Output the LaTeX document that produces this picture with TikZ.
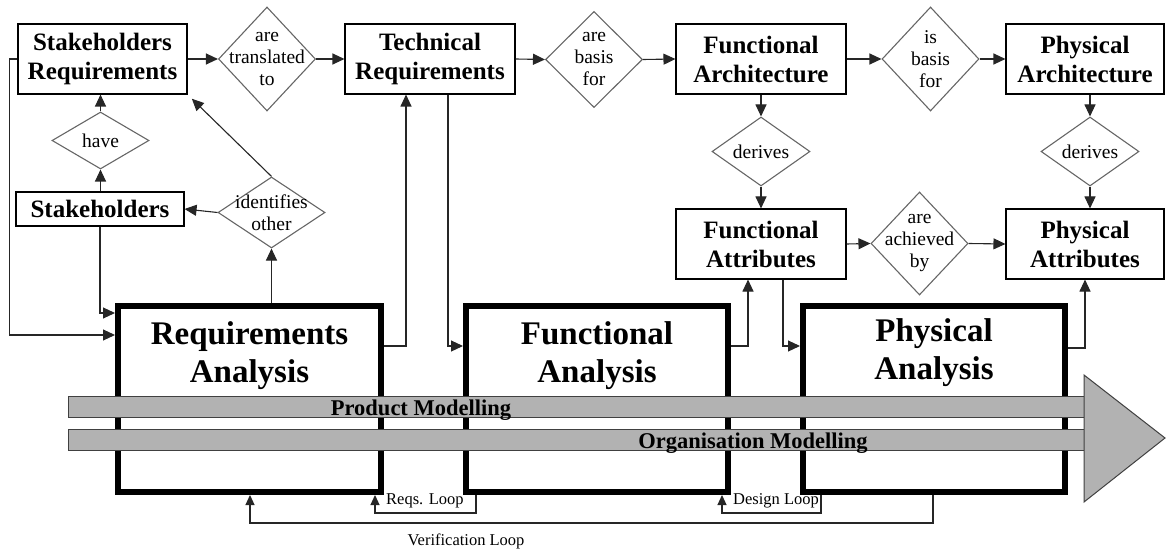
\documentclass[tikz,border=0pt]{standalone}
\usepackage{fontspec}
\setmainfont{Liberation Serif}
\usetikzlibrary{shapes.geometric,arrows.meta,positioning}

\tikzset{
	conn/.style={draw=black!85, line width=1.1pt, -{Triangle[length=12pt,width=11pt]}},
	loop/.style={conn, -{Triangle[length=10pt,width=9pt]}},
	entity/.style={draw, line width=1.1pt, inner sep=0pt, align=center, font=\fontsize{25}{29}\selectfont\bfseries, minimum width=170pt, minimum height=70pt},
	relation/.style={diamond, draw=black!60, line width=1.1pt, inner sep=0pt, minimum width=97pt, minimum height=104pt},
	reltext/.style={align=center, font=\fontsize{19.5}{22}\selectfont},
	process/.style={draw, line width=6pt, minimum width=263pt, minimum height=186pt, inner sep=0pt},
	proctext/.style={align=center, inner sep=0pt, font=\fontsize{33}{38}\selectfont\bfseries},
	band/.style={fill=black!30, draw=black!75, line width=1pt},
	bandtext/.style={inner sep=0pt, font=\fontsize{22.5}{26}\selectfont\bfseries},
	looptext/.style={inner sep=0pt, font=\fontsize{16.5}{19}\selectfont}
}

\begin{document}
\begin{tikzpicture}[x=1pt, y=-1pt]
				\useasboundingbox (0,0) rectangle (1166,553);
				
				\node[entity, minimum width=169pt] (SReq) at (102.5,59) {Stakeholders\\Requirements};
				\node[entity] (TReq) at (430,59) {Technical\\Requirements};
				\node[entity] (FArch) at (761,59) {Functional\\Architecture};
				\node[entity, minimum width=158pt] (PArch) at (1085,59) {Physical\\Architecture};
				\node[entity, minimum width=168pt, minimum height=34pt] (Stake) at (100,209) {Stakeholders};
				\node[entity] (FAttr) at (761,244) {Functional\\Attributes};
				\node[entity, minimum width=158pt] (PAttr) at (1085,244) {Physical\\Attributes};
				
				\node[relation, label={[reltext]center:are\\translated\\to}] (DTrans) at (267,59) {};
				\node[relation, minimum height=96pt, label={[reltext]center:are\\basis\\for}] (DBasisA) at (594,59.5) {};
				\node[relation, label={[reltext]center:is\\basis\\for}] (DBasisB) at (930.5,59) {};
				\node[relation, minimum height=57pt, label={[reltext]center:have}] (DHave) at (100.5,140.5) {};
				\node[relation, minimum width=107pt, minimum height=71pt, label={[reltext]center:identifies\\other}] (DIdent) at (271.5,212.5) {};
				\node[relation, minimum width=98pt, minimum height=69pt, label={[reltext]center:derives}] (DDerA) at (761,151.5) {};
				\node[relation, minimum width=98pt, minimum height=69pt, label={[reltext]center:derives}] (DDerB) at (1090,151.5) {};
				\node[relation, minimum height=103pt, label={[reltext]center:are\\achieved\\by}] (DAchv) at (919.5,243.5) {};
				
				\node[process] (RAna) at (249.5,399) {};
				\node[process, minimum width=262pt] (FAna) at (597,399) {};
				\node[process, minimum width=262pt] (PAna) at (934,399) {};
				\node[proctext, below=18pt of RAna.north] (RAnaT) {Requirements\\Analysis};
				\node[proctext, below=18pt of FAna.north] (FAnaT) {Functional\\Analysis};
				\node[proctext, below=15pt of PAna.north] (PAnaT) {Physical\\Analysis};
				
				\coordinate (InA) at (0,313);
				\coordinate (InB) at (0,335);
				\coordinate (OutY) at (0,346);
				\coordinate (OutZ) at (0,348);
				\coordinate (RUp) at (406,0);
				\coordinate (TDown) at (448,0);
				\coordinate (FUp) at (748,0);
				\coordinate (FDown) at (783,0);
				\coordinate (PUp) at (1085,0);
				\coordinate (LoopA) at (0,513);
				\coordinate (LoopB) at (0,523);
				\coordinate (ReqsFrom) at (476,0);
				\coordinate (ReqsTo) at (375,0);
				\coordinate (DesFrom) at (821,0);
				\coordinate (DesTo) at (722,0);
				\coordinate (VerFrom) at (933,0);
				\coordinate (VerTo) at (250,0);
				
				\draw[conn] (SReq.east) -- (DTrans.west);
				\draw[conn] (DTrans.east) -- (TReq.west);
				\draw[conn] (TReq.east) -- (DBasisA.west);
				\draw[conn] (DBasisA.east) -- (FArch.west);
				\draw[conn] (FArch.east) -- (DBasisB.west);
				\draw[conn] (DBasisB.east) -- (PArch.west);
				\draw[conn] (FArch.south) -- (DDerA.north);
				\draw[conn] (DDerA.south) -- (FAttr.north);
				\draw[conn] (DDerB.north |- PArch.south) -- (DDerB.north);
				\draw[conn] (DDerB.south) -- (DDerB.south |- PAttr.north);
				\draw[conn] (FAttr.east) -- (DAchv.west);
				\draw[conn] (DAchv.east) -- (PAttr.west);
				\draw[conn] (DHave.south |- Stake.north) -- (DHave.south);
				\draw[conn] (DHave.north) -- (DHave.north |- SReq.south);
				\draw[conn] (DIdent.west) -- (Stake.east);
				\draw[conn, shorten >=6pt] (DIdent.north) -- (SReq.south east);
				\draw[conn] (DIdent.south |- RAna.north) -- (DIdent.south);
				
				\draw[conn] (SReq.west) -- ++(-8,0) |- (RAna.west |- InB);
				\draw[conn] (Stake.south) |- (RAna.west |- InA);
				\draw[conn] (RAna.east |- OutY) -| (RUp |- TReq.south);
				\draw[conn] (TDown |- TReq.south) |- (FAna.west |- OutY);
				\draw[conn] (FAna.east |- OutY) -| (FUp |- FAttr.south);
				\draw[conn] (FDown |- FAttr.south) |- (PAna.west |- OutY);
				\draw[conn] (PAna.east |- OutZ) -| (PUp |- PAttr.south);
				
				\draw[loop] (ReqsFrom |- FAna.south) |- (ReqsTo |- LoopA) -- (ReqsTo |- RAna.south);
				\draw[loop] (DesFrom |- PAna.south) |- (DesTo |- LoopA) -- (DesTo |- FAna.south);
				\draw[loop] (VerFrom |- PAna.south) |- (VerTo |- LoopB) -- (VerTo |- RAna.south);
				\node[looptext, anchor=west] (LReqs) at (386,501) {Reqs. Loop};
				\node[looptext, anchor=west] (LDesign) at (733,501) {Design Loop};
				\node[looptext] (LVerif) at (466,541) {Verification Loop};
				
				\draw[band] (68,396) rectangle (1084,417);
				\draw[band] (68,429) rectangle (1084,450);
				\draw[band] (1084,375) -- (1165,438) -- (1084,502) -- cycle;
				\node[bandtext] (TProd) at (421,410) {Product Modelling};
				\node[bandtext] (TOrg) at (753,443) {Organisation Modelling};
				
			\end{tikzpicture}
\end{document}
